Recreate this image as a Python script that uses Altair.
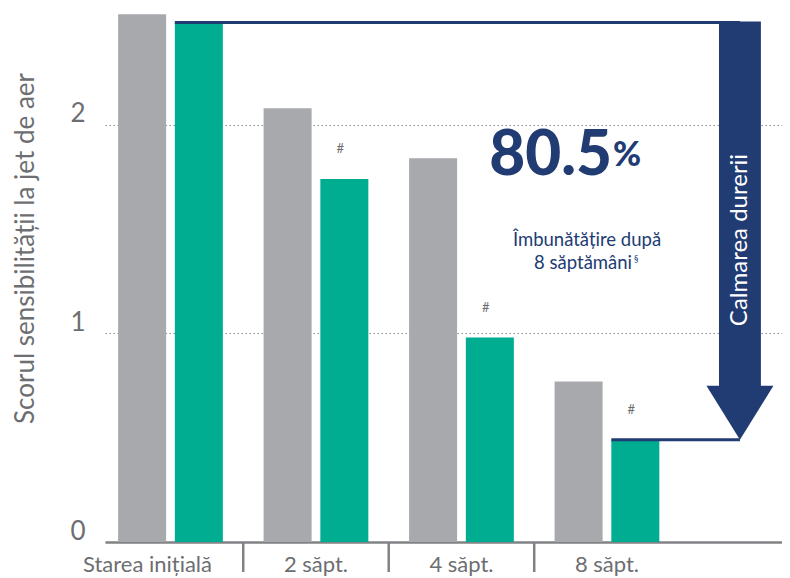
import altair as alt
import pandas as pd

# ---------------- data ----------------
categories = ["Starea inițială", "2 săpt.", "4 săpt.", "8 săpt."]
series_names = ["Referință", "Tratament"]
grey_values = [2.53, 2.08, 1.84, 0.77]
green_values = [2.49, 1.74, 0.98, 0.49]
significance = ["", "#", "#", "#"]
y_ticks = [0, 1, 2]
improvement_value = "80.5"
improvement_unit = "%"
improvement_lines = ["Îmbunătățire după", "8 săptămâni"]
footnote_mark = "§"
arrow_label = "Calmarea durerii"
y_title = "Scorul sensibilității la jet de aer"

# ---------------- style / layout ----------------
GREY = "#a7a9ac"
GREEN = "#00ad91"
NAVY = "#213b73"
AXIS = "#808285"
TEXT = "#6d6e71"
FONT = "Lato"
W, H = 677, 534
X_DOM = [-0.45, 4.203]
Y_DOM = [0, 2.56]
BW = 0.33      # bar width in group units
GAP = 0.03     # half gap between paired bars
ARROW_X = 3.914
SHAFT = 0.144

xs = alt.Scale(domain=X_DOM, nice=False, zero=False)
ys = alt.Scale(domain=Y_DOM, nice=False, zero=False)

rows = []
for i, cat in enumerate(categories):
    rows.append(dict(cat=cat, series=series_names[0], x=i - GAP - BW, x2=i - GAP,
                     y=grey_values[i], y2=0.0, mark=""))
    rows.append(dict(cat=cat, series=series_names[1], x=i + GAP, x2=i + GAP + BW,
                     y=green_values[i], y2=0.0, mark=significance[i]))
bars_df = pd.DataFrame(rows)
bars_df["xc"] = (bars_df["x"] + bars_df["x2"]) / 2

x_axis = alt.Axis(domain=True, domainColor=AXIS, domainWidth=2.5,
                  ticks=False, labels=False, grid=False, title=None)
y_axis = alt.Axis(
    values=y_ticks, format="d", domain=False, ticks=False, grid=True,
    gridColor="#8a8a8a", gridDash=[1.5, 2.5], gridWidth=1.2,
    labelFont=FONT, labelFontSize=26, labelColor=TEXT, labelPadding=20,
    labelBaseline="alphabetic", labelOffset=-3,
    title=y_title, titleFont=FONT, titleFontSize=26, titleFontWeight="normal",
    titleColor=TEXT, titleAngle=270, titleX=-80, titleY=240,
    titleAlign="center", titleBaseline="middle")

bars = alt.Chart(bars_df).mark_rect().encode(
    x=alt.X("x:Q", scale=xs, axis=x_axis),
    x2="x2:Q",
    y=alt.Y("y:Q", scale=ys, axis=y_axis),
    y2="y2:Q",
    color=alt.Color("series:N", scale=alt.Scale(domain=series_names, range=[GREY, GREEN]), legend=None),
)

hash_df = bars_df[bars_df["mark"] != ""]
hashes = alt.Chart(hash_df).mark_text(font=FONT, fontSize=13, color=TEXT, dy=-30, dx=-4,
                                      baseline="middle").encode(
    x=alt.X("xc:Q", scale=xs, axis=x_axis),
    y=alt.Y("y:Q", scale=ys, axis=y_axis),
    text="mark:N",
)

# connector lines from first and last treated bars to the arrow
line_df = pd.DataFrame({
    "x": [0 + GAP, len(categories) - 1 + GAP],
    "x2": [ARROW_X, ARROW_X],
    "y": [green_values[0], green_values[-1]],
})
lines = alt.Chart(line_df).mark_rule(color=NAVY, strokeWidth=3).encode(
    x=alt.X("x:Q", scale=xs, axis=x_axis), x2="x2:Q",
    y=alt.Y("y:Q", scale=ys, axis=y_axis),
)

shaft_df = pd.DataFrame({"x": [ARROW_X - SHAFT], "x2": [ARROW_X + SHAFT],
                         "y": [green_values[0] + 0.005], "y2": [green_values[-1] + 0.2]})
shaft = alt.Chart(shaft_df).mark_rect(color=NAVY).encode(
    x=alt.X("x:Q", scale=xs, axis=x_axis), x2="x2:Q",
    y=alt.Y("y:Q", scale=ys, axis=y_axis), y2="y2:Q",
)

head_df = pd.DataFrame({"x": [ARROW_X], "y": [green_values[-1]]})
head = alt.Chart(head_df).mark_point(
    shape="M-1,-1.61L1,-1.61L0,0Z", size=4489, filled=True, color=NAVY, opacity=1, strokeWidth=0
).encode(
    x=alt.X("x:Q", scale=xs, axis=x_axis),
    y=alt.Y("y:Q", scale=ys, axis=y_axis),
)

arrow_text = alt.Chart(pd.DataFrame({"t": [arrow_label]})).mark_text(
    font=FONT, fontSize=24, color="white", angle=270, align="center", baseline="middle"
).encode(x=alt.value(635), y=alt.value(232), text="t:N")

big = alt.Chart(pd.DataFrame({"t": [improvement_value]})).mark_text(
    font=FONT, fontSize=62, fontWeight=900, color=NAVY, align="right", baseline="alphabetic"
).encode(x=alt.value(507), y=alt.value(167), text="t:N")

pct = alt.Chart(pd.DataFrame({"t": [improvement_unit]})).mark_text(
    font=FONT, fontSize=34, fontWeight=900, color=NAVY, align="left", baseline="alphabetic"
).encode(x=alt.value(508), y=alt.value(158), text="t:N")

sub1 = alt.Chart(pd.DataFrame({"t": [improvement_lines[0]]})).mark_text(
    font=FONT, fontSize=18.5, color=NAVY, align="center", baseline="alphabetic"
).encode(x=alt.value(482), y=alt.value(238), text="t:N")

sub2 = alt.Chart(pd.DataFrame({"t": [improvement_lines[1]]})).mark_text(
    font=FONT, fontSize=18.5, color=NAVY, align="right", baseline="alphabetic"
).encode(x=alt.value(527), y=alt.value(261), text="t:N")

sub3 = alt.Chart(pd.DataFrame({"t": [footnote_mark]})).mark_text(
    font=FONT, fontSize=9, color=NAVY, align="left", baseline="alphabetic"
).encode(x=alt.value(529), y=alt.value(254), text="t:N")

# x category labels and separators
lab_df = pd.DataFrame({"label": categories, "x": list(range(len(categories)))})
lab_first = alt.Chart(lab_df.iloc[:1]).mark_text(
    font=FONT, fontSize=22, color=TEXT, align="center", baseline="alphabetic", dx=-23
).encode(x=alt.X("x:Q", scale=xs, axis=x_axis), y=alt.value(H + 30), text="label:N")
lab_rest = alt.Chart(lab_df.iloc[1:]).mark_text(
    font=FONT, fontSize=22, color=TEXT, align="center", baseline="alphabetic"
).encode(x=alt.X("x:Q", scale=xs, axis=x_axis), y=alt.value(H + 30), text="label:N")

sep_df = pd.DataFrame({"x": [i + 0.5 for i in range(len(categories) - 1)]})
seps = alt.Chart(sep_df).mark_rule(color=AXIS, strokeWidth=2.5).encode(
    x=alt.X("x:Q", scale=xs, axis=x_axis), y=alt.value(H + 1), y2=alt.value(H + 30)
)

chart = alt.layer(
    bars, hashes, lines, shaft, head, arrow_text, big, pct, sub1, sub2, sub3,
    seps, lab_first, lab_rest
).properties(
    width=W, height=H,
    autosize=alt.AutoSizeParams(type="none"),
    padding={"left": 97, "top": 0, "right": 0, "bottom": 36},
).configure_view(stroke=None)

chart.save("out.html", embed_options={"renderer": "svg", "actions": False})
